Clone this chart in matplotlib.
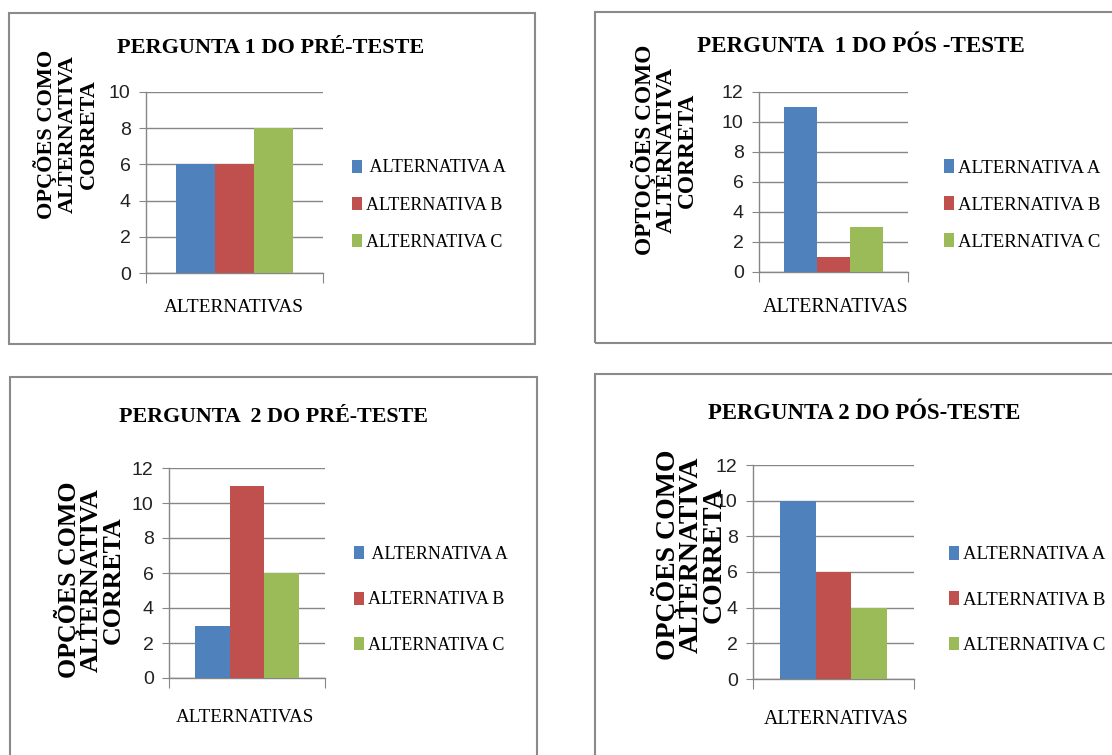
import matplotlib.pyplot as plt
from matplotlib.patches import Rectangle

W, H = 1112, 755

alternativas = ['ALTERNATIVA A', 'ALTERNATIVA B', 'ALTERNATIVA C']
cores = ['#4F81BD', '#C0504D', '#9BBB59']

titulos = ['PERGUNTA 1 DO PRÉ-TESTE', 'PERGUNTA  1 DO PÓS -TESTE',
           'PERGUNTA  2 DO PRÉ-TESTE', 'PERGUNTA 2 DO PÓS-TESTE']
rotulos_y = ['OPÇÕES COMO\nALTERNATIVA\nCORRETA',
             'OPTOÇÕES COMO\nALTERNATIVA\nCORRETA',
             'OPÇÕES COMO\nALTERNATIVA\nCORRETA',
             'OPÇÕES COMO\nALTERNATIVA\nCORRETA']
rotulo_x = 'ALTERNATIVAS'

pergunta1_pre = [6, 6, 8]
pergunta1_pos = [11, 1, 3]
pergunta2_pre = [3, 11, 6]
pergunta2_pos = [10, 6, 4]
y_max = [10, 12, 12, 12]

SERIF = ['Liberation Serif', 'DejaVu Serif']
SANS = ['Liberation Sans Narrow', 'Liberation Sans', 'DejaVu Sans']
GRAY = '#868686'

# layout of each panel, in pixels from the top-left corner
paineis = [
    dict(box=(9, 13, 535, 344), ax=(146, 92, 323, 273),
         title=(271, 48, 16), ylab=(66, 134, 16, 1.06),
         leg=(352, 205, 13, 1.11), xlab=(234, 308, 13.9), lead=' '),
    dict(box=(595, 12, 1125, 343), ax=(759, 92, 908, 272),
         title=(861, 47, 16.6), ylab=(664, 150, 16.8, 1.0),
         leg=(944, 205, 13.5, 1.06), xlab=(836, 308, 14.4), lead=''),
    dict(box=(10, 377, 537, 770), ax=(169, 468, 325, 678),
         title=(273, 417, 15.8), ylab=(89, 580, 18.6, 0.93),
         leg=(354, 600, 13, 1.58), xlab=(245, 718, 13.7), lead=' '),
    dict(box=(595, 374, 1125, 770), ax=(753, 465, 914, 679),
         title=(864, 413, 16.4), ylab=(689, 555, 20, 0.88),
         leg=(949, 600, 13.5, 1.49), xlab=(836, 720, 14.3), lead=''),
]
valores = [pergunta1_pre, pergunta1_pos, pergunta2_pre, pergunta2_pos]


def fx(x):
    return x / W


def fy(y):
    return 1 - y / H


fig = plt.figure(figsize=(W / 100, H / 100), dpi=100)
fig.patch.set_facecolor('white')

for p, vals, titulo, rot_y, ymax in zip(paineis, valores, titulos, rotulos_y, y_max):
    # frame around each chart
    x0, y0, x1, y1 = p['box']
    fig.patches.append(Rectangle((fx(x0), fy(y1)), fx(x1 - x0), (y1 - y0) / H,
                                 transform=fig.transFigure, fill=False,
                                 edgecolor='#8a8a8a', linewidth=1.5))

    a0, b0, a1, b1 = p['ax']
    ax = fig.add_axes([fx(a0), fy(b1), fx(a1 - a0), (b1 - b0) / H])
    ax.set_axisbelow(True)
    labels = [p['lead'] + alternativas[0]] + alternativas[1:]
    bars = ax.bar(range(len(vals)), vals, width=1.0, color=cores, zorder=3,
                  label=labels)
    ax.set_xlim(-1.25, 3.25)
    ax.set_ylim(0, ymax)
    ax.set_yticks(range(0, ymax + 1, 2))
    ax.set_xticks([-1.25, 3.25])
    ax.set_xticklabels([])
    ax.yaxis.grid(True, color=GRAY, linewidth=1.0)
    for s in ['top', 'right']:
        ax.spines[s].set_visible(False)
    for s in ['left', 'bottom']:
        ax.spines[s].set_color(GRAY)
        ax.spines[s].set_linewidth(1.0)
    ax.tick_params(axis='y', length=5, color=GRAY, labelsize=14, pad=6,
                   labelcolor='#222222')
    ax.tick_params(axis='x', length=7, color=GRAY)
    for lbl in ax.get_yticklabels():
        lbl.set_family(SANS)

    tx, ty, ts = p['title']
    fig.text(fx(tx), fy(ty), titulo, ha='center', va='center', fontsize=ts,
             fontweight='bold', family=SERIF)

    lx, ly, ls, lsp = p['ylab']
    fig.text(fx(lx), fy(ly), rot_y, rotation=90, ha='center', va='center',
             multialignment='center', fontsize=ls, fontweight='bold',
             family=SERIF, linespacing=lsp)

    xx, xy, xs = p['xlab']
    fig.text(fx(xx), fy(xy), rotulo_x, ha='center', va='center', fontsize=xs,
             family=SERIF)

    gx, gy, gs, gsp = p['leg']
    ax.legend(handles=bars.patches, loc='center left',
              bbox_to_anchor=(fx(gx), fy(gy)), bbox_transform=fig.transFigure,
              frameon=False, prop={'family': SERIF, 'size': gs},
              handlelength=0.55, handleheight=0.72, handletextpad=0.2,
              labelspacing=gsp, borderpad=0, borderaxespad=0)

fig.savefig('out.png', dpi=100, facecolor='white')
